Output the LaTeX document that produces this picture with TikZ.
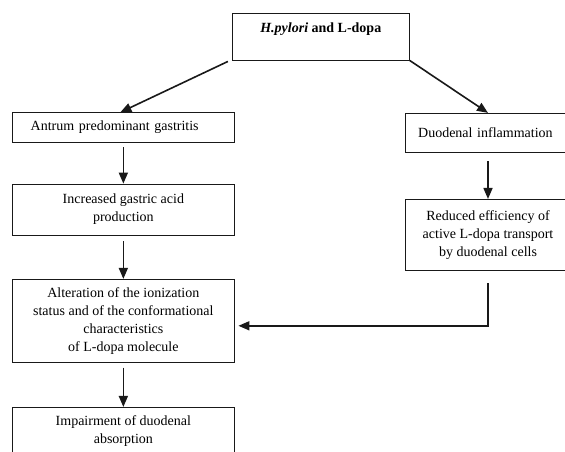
\documentclass[tikz,border=0pt]{standalone}
\usepackage{fontspec}
\setmainfont{Liberation Serif}
\usetikzlibrary{arrows.meta}
\begin{document}
\begin{tikzpicture}[x=1pt,y=-1pt,
  box/.style={draw=black!90, line width=0.8pt, rectangle, inner sep=0pt, align=center,
    font=\fontsize{14}{18}\selectfont},
  arr/.style={draw=black!90, line width=1.6pt, -{Triangle[length=11pt,width=9pt]}}]
\useasboundingbox (0,0) rectangle (565,451);
\node[box, minimum width=177pt, minimum height=46.7pt] (top) at (320.8,36.7)
  {\textbf{\textit{H.pylori} and L-dopa}\\\mbox{}};
\node[box, minimum width=221.3pt, minimum height=29.6pt, text width=185.3pt, align=left, inner xsep=18pt] (antrum) at (123.35,127.5)
  {Antrum predominant gastritis};
\node[box, minimum width=164.3pt, minimum height=39.4pt, text width=139.7pt, align=left, inner xsep=12.3pt] (duo) at (488,133)
  {Duodenal inflammation};
\node[box, minimum width=221.3pt, minimum height=51pt] (incr) at (123.35,209.5)
  {Increased gastric acid\\production};
\node[box, minimum width=221.3pt, minimum height=83pt] (alt) at (123.35,320.8)
  {Alteration of the ionization\\status and of the conformational\\characteristics\\of L-dopa molecule};
\node[box, minimum width=221.3pt, minimum height=47.7pt] (imp) at (123.35,431.2)
  {Impairment of duodenal\\absorption};
\node[box, minimum width=164.3pt, minimum height=70.7pt] (red) at (488,234.7)
  {Reduced efficiency of\\active L-dopa transport\\by duodenal cells};
\draw[arr] ([xshift=-4pt,yshift=-1pt]top.south west) -- ([xshift=-3pt]antrum.north);
\draw[arr] (top.south east) -- (duo.north);
\draw[arr, shorten <=4.4pt] (antrum.south) -- (incr.north);
\draw[arr, shorten <=5.7pt] (incr.south) -- (alt.north);
\draw[arr, shorten <=5pt] (alt.south) -- (imp.north);
\draw[arr, shorten <=8pt] (duo.south) -- (red.north);
\draw[arr, shorten >=4pt] ([yshift=-12.7pt]red.south) |- ([yshift=-5pt]alt.east);
\end{tikzpicture}
\end{document}
